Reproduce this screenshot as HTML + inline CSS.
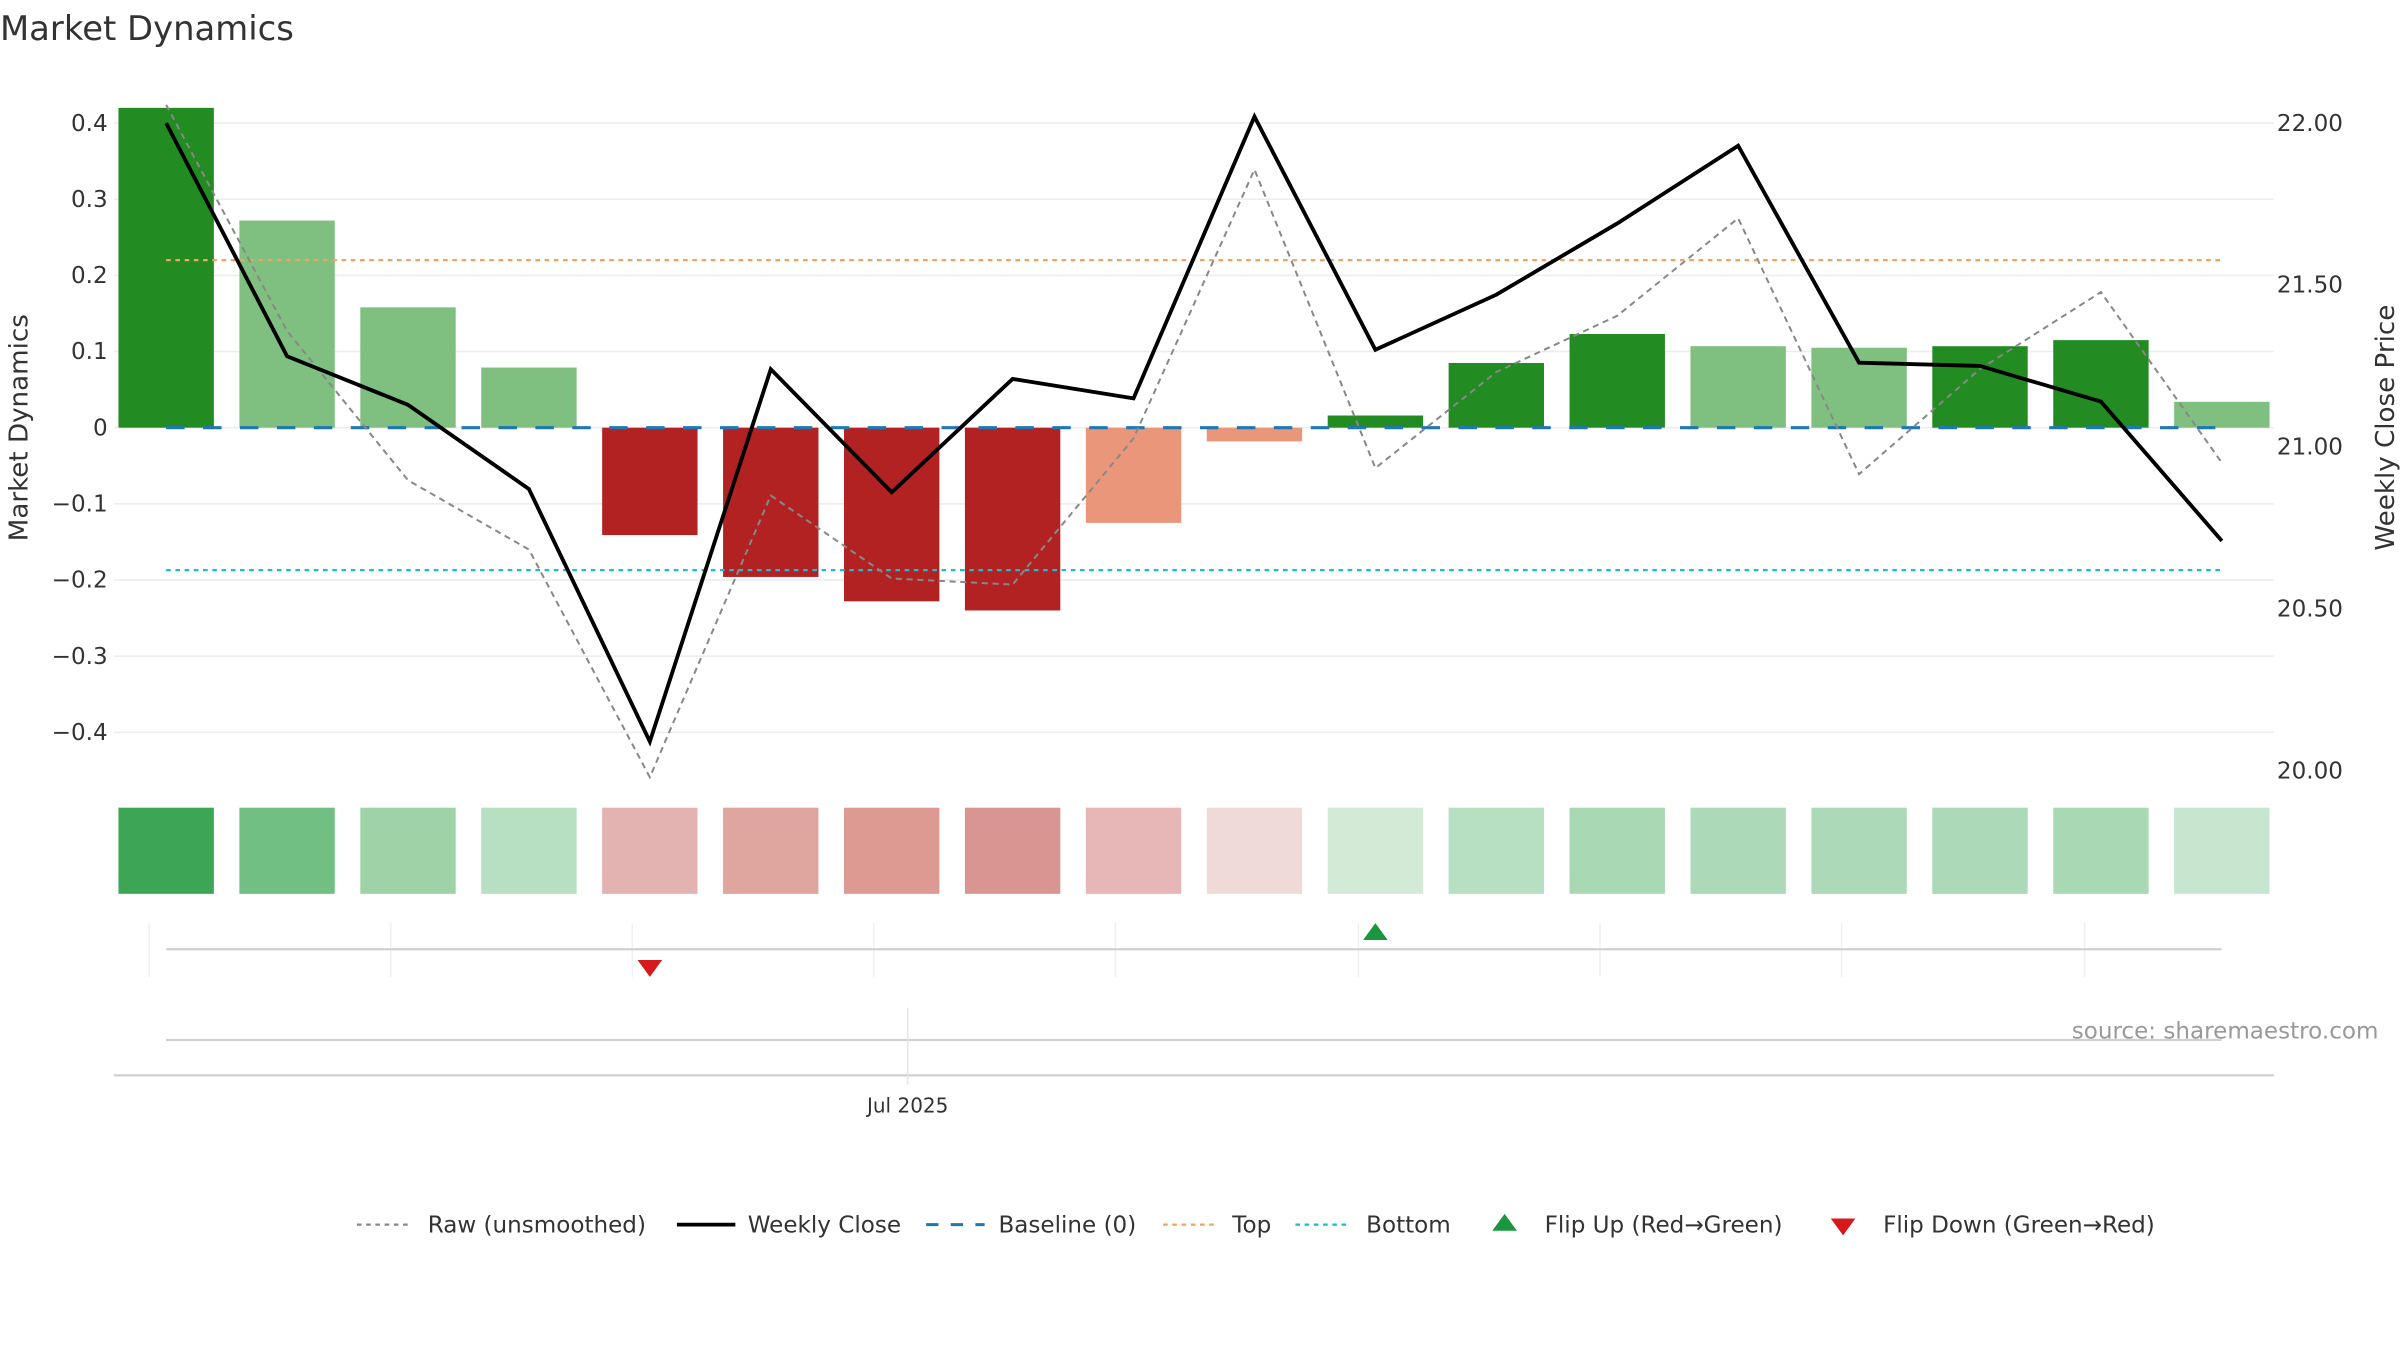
<!DOCTYPE html>
<html><head><meta charset="utf-8"><style>
html,body{margin:0;padding:0;background:#fff;}
svg{display:block;font-family:"DejaVu Sans","Liberation Sans",sans-serif;}
</style></head><body>
<svg id="chart" width="2400" height="1350" viewBox="0 0 1560 877.5" xmlns="http://www.w3.org/2000/svg">
<text x="0" y="26" font-size="22" fill="#333">Market Dynamics</text>
<g id="grid"></g>
<g id="bars"></g>
<g id="lines"></g>
<g id="heat"></g>
<g id="flips"></g>
<text x="0" y="0" font-size="17" fill="#333" text-anchor="middle" transform="translate(18,278) rotate(-90)">Market Dynamics</text>
<text x="0" y="0" font-size="17" fill="#333" text-anchor="middle" transform="translate(1556,278) rotate(-90)">Weekly Close Price</text>
<line x1="74" y1="699" x2="1478" y2="699" stroke="#d0d0d0" stroke-width="1.5"/>
<line x1="108" y1="676" x2="1444" y2="676" stroke="#d0d0d0" stroke-width="1.5"/>
<line x1="590" y1="655" x2="590" y2="705" stroke="#e5e5e5" stroke-width="1"/>
<text x="590" y="723" font-size="13" fill="#333" text-anchor="middle">Jul 2025</text>
<text x="1546" y="675" font-size="15" fill="#999" text-anchor="end">source: sharemaestro.com</text>
<g id="legend" font-size="15" fill="#333">
<g><line x1="232" y1="796" x2="268" y2="796" stroke="#888" stroke-width="1.5" stroke-dasharray="3,3"/><text x="278" y="801">Raw (unsmoothed)</text></g>
<g><line x1="440" y1="796" x2="478" y2="796" stroke="#000" stroke-width="2.5"/><text x="486" y="801">Weekly Close</text></g>
<g><line x1="602" y1="796" x2="640" y2="796" stroke="#1f77b4" stroke-width="2" stroke-dasharray="8,8"/><text x="649" y="801">Baseline (0)</text></g>
<g><line x1="756" y1="796" x2="792" y2="796" stroke="#f4a261" stroke-width="1.5" stroke-dasharray="3,3"/><text x="801" y="801">Top</text></g>
<g><line x1="842" y1="796" x2="878" y2="796" stroke="#17becf" stroke-width="1.5" stroke-dasharray="3,3"/><text x="888" y="801">Bottom</text></g>
<g><path d="M970,800 L986,800 L978,789 Z" fill="#1a9641"/><text x="1004" y="801">Flip Up (Red→Green)</text></g>
<g><path d="M1190,792 L1206,792 L1198,803 Z" fill="#d7191c"/><text x="1224" y="801">Flip Down (Green→Red)</text></g>
</g>
</svg>
<script>
const dynamics = [0.42,0.272,0.158,0.079,-0.141,-0.196,-0.228,-0.240,-0.125,-0.018,0.016,0.085,0.123,0.107,0.105,0.107,0.115,0.034];
const strongFlag = [1,0,0,0,1,1,1,1,0,0,1,1,1,0,0,1,1,0];
const rawValues = [0.424,0.127,-0.069,-0.160,-0.459,-0.089,-0.198,-0.206,-0.014,0.339,-0.053,0.073,0.147,0.275,-0.061,0.077,0.178,-0.046];
const weeklyClose = [22.00,21.28,21.13,20.87,20.09,21.24,20.86,21.21,21.15,22.02,21.30,21.47,21.69,21.93,21.26,21.25,21.14,20.71];
const heatColors = ["#3ca655","#72bf83","#9dd3a6","#b7dfc1","#e3b3b1","#dfa59f","#dc9a93","#d99591","#e6b7b6","#f0dad8","#d2ead6","#b7dfc1","#a9d8b5","#acd9b7","#acd9b7","#acd9b7","#a9d8b5","#c6e6cf"];
const leftTicks = [0.4,0.3,0.2,0.1,0,-0.1,-0.2,-0.3,-0.4];
const leftTickLabels = ["0.4","0.3","0.2","0.1","0","−0.1","−0.2","−0.3","−0.4"];
const rightTicks = [22.0,21.5,21.0,20.5,20.0];
const rightTickLabels = ["22.00","21.50","21.00","20.50","20.00"];
const topLevel = 0.22;
const bottomLevel = -0.187;
const flipUpIdx = [10];
const flipDownIdx = [4];

const NS="http://www.w3.org/2000/svg";
const yL = v => 278 - v*495;
const yR = p => 80 + (22 - p)*210.5;
const xC = i => 108 + i*78.6;
const BW = 62;
function mk(tag, attrs, parent){const e=document.createElementNS(NS,tag);for(const k in attrs)e.setAttribute(k,attrs[k]);document.getElementById(parent).appendChild(e);return e;}

leftTicks.forEach((t,i)=>{
  const g=mk('line',{x1:74,x2:1478,y1:yL(t),y2:yL(t),stroke:'#ececf0','stroke-width':1},'grid');
  
  
  const tx=mk('text',{x:70,y:yL(t)+5,'font-size':15,fill:'#333','text-anchor':'end'},'grid');
  tx.textContent=leftTickLabels[i];
  
  
});
rightTicks.forEach((t,i)=>{
  const tx=mk('text',{x:1480,y:yR(t)+5,'font-size':15,fill:'#333'},'grid');
  tx.textContent=rightTickLabels[i];
  
  
});
dynamics.forEach((v,i)=>{
  let c = v>=0 ? (strongFlag[i]?'#228b22':'#7fbf7f') : (strongFlag[i]?'#b22222':'#e9967a');
  const y0=yL(0), y1=yL(v);
  const r=mk('rect',{x:xC(i)-BW/2,y:Math.min(y0,y1),width:BW,height:Math.abs(y1-y0),fill:c},'bars');
  
  
  const h=mk('rect',{x:xC(i)-BW/2,y:525,width:BW,height:56,fill:heatColors[i]},'heat');
  
  
});
function hline(v,color,dash,w,name){
  const l=mk('line',{x1:108,x2:1444,y1:yL(v),y2:yL(v),stroke:color,'stroke-dasharray':dash,'stroke-width':w},'lines');
  
  
}
hline(0,'#1f77b4','12,12',2,'baseline-line');
hline(topLevel,'#f4a261','3,3',1.5,'top-line');
hline(bottomLevel,'#17becf','3,3',1.5,'bottom-line');
const raw=mk('polyline',{points:rawValues.map((v,i)=>xC(i)+','+yL(v)).join(' '),fill:'none',stroke:'#888','stroke-width':1.3,'stroke-dasharray':'4,3'},'lines');


const wc=mk('polyline',{points:weeklyClose.map((p,i)=>xC(i)+','+yR(p)).join(' '),fill:'none',stroke:'#000','stroke-width':2.5,'stroke-linejoin':'miter'},'lines');


[97,254,411,568,725,883,1040,1197,1355].forEach(x=>{
  const l=mk('line',{x1:x,x2:x,y1:600,y2:635,stroke:'#eef0f2','stroke-width':1},'flips');
  
  
});
const fb=mk('line',{x1:108,x2:1444,y1:617,y2:617,stroke:'#d0d0d0','stroke-width':1.5},'flips');


flipUpIdx.forEach(i=>{
  const p=mk('path',{d:`M${xC(i)-8},611 L${xC(i)+8},611 L${xC(i)},600 Z`,fill:'#1a9641'},'flips');
  
  
});
flipDownIdx.forEach(i=>{
  const p=mk('path',{d:`M${xC(i)-8},624 L${xC(i)+8},624 L${xC(i)},635 Z`,fill:'#d7191c'},'flips');
  
  
});
</script>
</body></html>
